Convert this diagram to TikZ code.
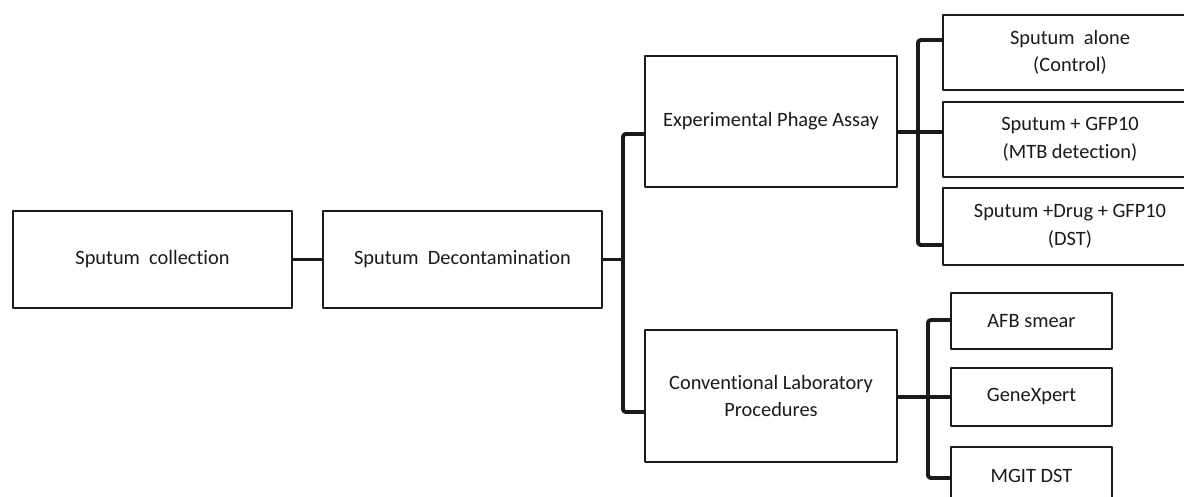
\documentclass[tikz,border=0pt]{standalone}
\usepackage{fontspec}
\setmainfont{Carlito}[Ligatures=NoCommon]
\usepackage{tikz}
\definecolor{ink}{HTML}{1A1A1A}
\tikzset{fig/.style={line join=round},
  box/.style={draw=ink,line width=1.6pt,fill=white,align=center,inner sep=2pt,
    font=\fontsize{14.5}{19.5}\selectfont,text=ink},
  link/.style={draw=ink,line width=2.8pt,rounded corners=2pt}}

\begin{document}
\begin{tikzpicture}[fig,x=0.025cm,y=-0.025cm]
  \useasboundingbox (0,0) rectangle (1184,497);
  % first column
  \node[box,minimum width=6.975cm,minimum height=2.425cm](collect)at(152.5,259.5){Sputum\ \ collection};
  \node[box,minimum width=6.975cm,minimum height=2.425cm](decon)at(462.5,259.5){Sputum\ \ Decontamination};
  % second column
  \node[box,minimum width=6.3cm,minimum height=3.275cm](phage)at(771,121.5){Experimental Phage Assay};
  \node[box,minimum width=6.3cm,minimum height=3.3cm](conv)at(771,396){Conventional Laboratory\\Procedures};
  % phage assay arms
  \node[box,minimum width=6.35cm,minimum height=1.875cm](alone)at(1070,52.5){Sputum\ \ alone\\(Control)};
  \node[box,minimum width=6.35cm,minimum height=1.875cm](gfp)at(1070,139.5){Sputum + GFP10\\(MTB detection)};
  \node[box,minimum width=6.35cm,minimum height=1.925cm](drug)at(1070,226.5){Sputum +Drug + GFP10\\(DST)};
  % conventional procedures
  \node[box,minimum width=4.025cm,minimum height=1.4cm](afb)at(1031.5,321){AFB smear};
  \node[box,minimum width=4.025cm,minimum height=1.45cm](genex)at(1031.5,397){GeneXpert};
  \node[box,minimum width=4.025cm,minimum height=1.45cm](mgit)at(1031.5,476){MGIT DST};
  % trunk points
  \coordinate(ta)at(623,134);\coordinate(tb)at(623,412);
  \coordinate(ua)at(918,40);\coordinate(ub)at(918,132);\coordinate(uc)at(918,245);
  \coordinate(la)at(928,320);\coordinate(lb)at(928,397);\coordinate(lc)at(928,478);
  % connectors
  \draw[link](collect)--(decon);
  \draw[link](decon.east)--(decon.east-|ta);
  \draw[link](phage.west|-ta)--(ta)--(tb)--(conv.west|-tb);
  \draw[link](phage.east|-ub)--(ub);
  \draw[link](alone.west|-ua)--(ua)--(uc)--(drug.west|-uc);
  \draw[link](ub)--(gfp.west|-ub);
  \draw[link](conv.east|-lb)--(lb)--(genex.west|-lb);
  \draw[link](afb.west|-la)--(la)--(lc)--(mgit.west|-lc);
\end{tikzpicture}
\end{document}
